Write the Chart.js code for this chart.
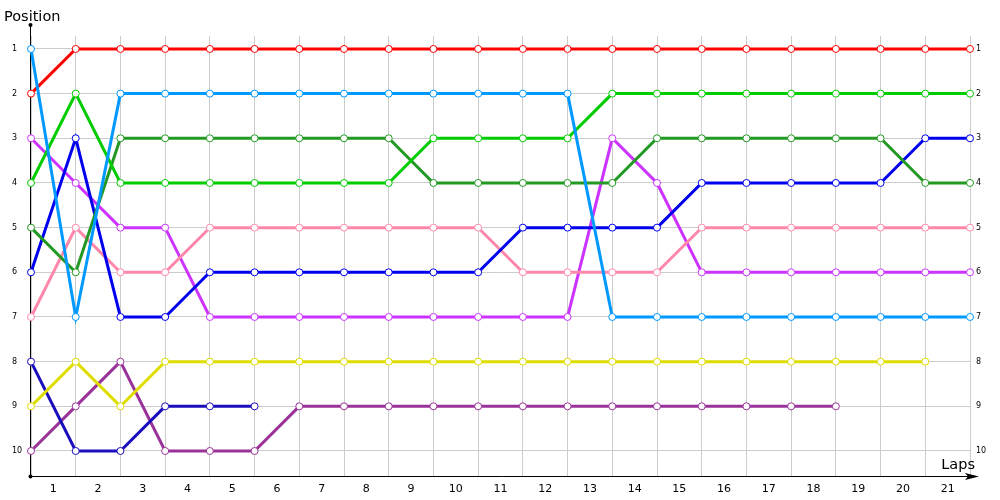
<!DOCTYPE html>
<html>
<head>
<meta charset="utf-8">
<script src="https://cdn.jsdelivr.net/npm/chart.js@4/dist/chart.umd.min.js"></script>
<style>
body{margin:0;background:#fff}
</style>
</head>
<body>
<canvas id="myChart" width="1000" height="500"></canvas>
<script>
// lap index 0..21, position at the end of each lap
var laps = [0,1,2,3,4,5,6,7,8,9,10,11,12,13,14,15,16,17,18,19,20,21];
var lapLabels = ["1","2","3","4","5","6","7","8","9","10","11","12","13","14","15","16","17","18","19","20","21"];
var positions = [1,2,3,4,5,6,7,8,9,10];

var red       = [2,1,1,1,1,1,1,1,1,1,1,1,1,1,1,1,1,1,1,1,1,1];
var lightBlue = [1,7,2,2,2,2,2,2,2,2,2,2,2,7,7,7,7,7,7,7,7,7];
var green     = [4,2,4,4,4,4,4,4,4,3,3,3,3,2,2,2,2,2,2,2,2,2];
var darkGreen = [5,6,3,3,3,3,3,3,3,4,4,4,4,4,3,3,3,3,3,3,4,4];
var blue      = [6,3,7,7,6,6,6,6,6,6,6,5,5,5,5,4,4,4,4,4,3,3];
var pink      = [7,5,6,6,5,5,5,5,5,5,5,6,6,6,6,5,5,5,5,5,5,5];
var violet    = [3,4,5,5,7,7,7,7,7,7,7,7,7,3,4,6,6,6,6,6,6,6];
var yellow    = [9,8,9,8,8,8,8,8,8,8,8,8,8,8,8,8,8,8,8,8,8];
var navy      = [8,10,10,9,9,9];
var purple    = [10,9,8,10,10,10,9,9,9,9,9,9,9,9,9,9,9,9,9];

function pts(arr){
	return arr.map(function(p, i){ return {x: laps[i], y: p}; });
}
function ds(arr, col){
	return {
		data: pts(arr),
		borderColor: col,
		borderWidth: 3,
		pointRadius: 3.5,
		pointBorderWidth: 1,
		pointBackgroundColor: '#ffffff',
		pointBorderColor: col,
		tension: 0,
		clip: false
	};
}

var decor = {
	id: 'decor',
	beforeDatasetsDraw: function(chart){
		var c = chart.ctx;
		c.save();
		c.strokeStyle = '#000';
		c.fillStyle = '#000';
		c.lineWidth = 1;
		c.beginPath();
		c.moveTo(30.5, 25);
		c.lineTo(30.5, 476.5);
		c.lineTo(975, 476.5);
		c.stroke();
		c.beginPath(); c.arc(30.5, 25, 2, 0, Math.PI*2); c.fill();
		c.beginPath(); c.arc(30.5, 476.5, 2, 0, Math.PI*2); c.fill();
		c.beginPath();
		c.moveTo(979, 476.5);
		c.lineTo(965, 473);
		c.lineTo(968, 476.5);
		c.lineTo(965, 480);
		c.closePath();
		c.fill();
		c.restore();
	},
	afterDraw: function(chart){
		var c = chart.ctx;
		c.save();
		c.fillStyle = '#000';
		c.font = '14.5px "DejaVu Sans"';
		c.textBaseline = 'alphabetic';
		c.textAlign = 'left';
		c.fillText('Position', 4, 21);
		c.textAlign = 'right';
		c.fillText('Laps', 975, 469);
		c.restore();
	}
};

var yTicks = {
	font: {size: 8, family: 'DejaVu Sans'},
	color: '#000'
};

new Chart("myChart", {
	type: "line",
	data: {
		datasets: [
			ds(lightBlue, '#0099ff'),
			ds(red, '#ff0000'),
			ds(green, '#00cc00'),
			ds(darkGreen, '#229922'),
			ds(blue, '#0000ee'),
			ds(pink, '#ff88aa'),
			ds(violet, '#cc33ff'),
			ds(yellow, '#dddd00'),
			ds(navy, '#1a0dbb'),
			ds(purple, '#993399')
		]
	},
	options: {
		responsive: false,
		animation: false,
		layout: {padding: {top: 36, left: 12, right: 0, bottom: 0}},
		plugins: {
			legend: false,
			tooltip: {enabled: false}
		},
		scales: {
			x: {
				type: 'linear',
				min: 0,
				max: 21,
				afterBuildTicks: function(s){
					s.ticks = lapLabels.map(function(l, i){ return {value: i + 0.5}; });
				},
				afterFit: function(s){ s.height = 24; },
				grid: {offset: true, color: '#cccccc', drawTicks: false},
				border: {display: false},
				ticks: {
					padding: 7,
					autoSkip: false,
					maxRotation: 0,
					color: '#000',
					font: {size: 11, family: 'DejaVu Sans'},
					callback: function(v, i){ return lapLabels[i]; }
				}
			},
			y: {
				type: 'linear',
				position: 'left',
				reverse: true,
				min: 0.71,
				max: 10.56,
				afterBuildTicks: function(s){
					s.ticks = positions.map(function(p){ return {value: p}; });
				},
				afterFit: function(s){ s.width = 19; },
				grid: {color: '#cccccc', drawTicks: false},
				border: {display: false},
				ticks: Object.assign({crossAlign: 'far', padding: 0}, yTicks)
			},
			y2: {
				type: 'linear',
				position: 'right',
				reverse: true,
				min: 0.71,
				max: 10.56,
				afterBuildTicks: function(s){
					s.ticks = positions.map(function(p){ return {value: p}; });
				},
				afterFit: function(s){ s.width = 30; },
				grid: {display: false, drawTicks: false},
				border: {display: false},
				ticks: Object.assign({padding: 6}, yTicks)
			}
		}
	},
	plugins: [decor]
});
</script>
</body>
</html>
